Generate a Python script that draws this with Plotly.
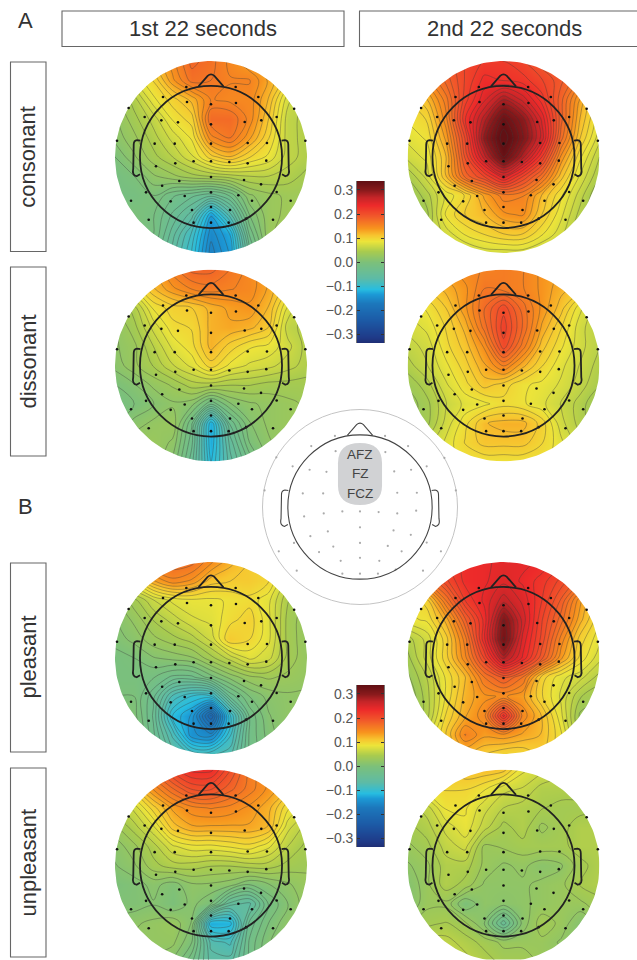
import numpy as np
import plotly.graph_objects as go

W, H = 637, 960

grid_pos = [-1.0, -0.8, -0.6, -0.4, -0.2, 0.0, 0.2, 0.4, 0.6, 0.8, 1.0]

consonant_1st = [
 [.10,.10,.12,.15,.18,.17,.15,.13,.12,.10,.10],
 [.07,.08,.10,.14,.17,.165,.155,.155,.13,.10,.08],
 [.03,.05,.085,.105,.125,.155,.15,.15,.12,.07,.05],
 [.02,.04,.06,.09,.105,.175,.175,.15,.11,.06,.05],
 [.015,.03,.05,.07,.09,.15,.165,.135,.10,.06,.05],
 [.0,.02,.04,.055,.075,.105,.12,.10,.085,.06,.05],
 [-.01,.0,.02,.03,.04,.045,.05,.055,.055,.05,.04],
 [-.01,-.01,.0,-.02,-.03,-.04,-.02,.02,.03,.035,.035],
 [.0,.0,-.01,-.035,-.06,-.13,-.07,.0,.03,.035,.04],
 [.0,.0,-.01,-.05,-.09,-.15,-.12,-.02,.03,.04,.04],
 [.0,.0,-.02,-.06,-.10,-.16,-.13,-.04,.02,.04,.04],
]
consonant_2nd = [
 [.17,.18,.19,.21,.22,.22,.21,.19,.18,.16,.15],
 [.13,.15,.18,.21,.235,.23,.225,.21,.19,.16,.13],
 [.10,.12,.16,.215,.25,.285,.26,.225,.18,.13,.09],
 [.09,.10,.15,.23,.28,.33,.30,.25,.18,.12,.08],
 [.08,.09,.135,.21,.30,.35,.31,.26,.17,.11,.07],
 [.07,.08,.12,.20,.27,.33,.28,.22,.14,.09,.055],
 [.045,.07,.12,.18,.21,.25,.21,.17,.115,.075,.045],
 [.03,.05,.08,.10,.135,.16,.155,.12,.09,.06,.03],
 [.02,.04,.09,.11,.12,.14,.145,.11,.08,.05,.03],
 [.03,.05,.07,.09,.10,.11,.11,.09,.07,.04,.03],
 [.03,.05,.06,.06,.07,.07,.07,.06,.05,.04,.03],
]
dissonant_1st = [
 [.10,.11,.13,.16,.18,.18,.165,.15,.13,.11,.10],
 [.08,.09,.12,.14,.155,.16,.155,.15,.13,.10,.08],
 [.03,.05,.09,.105,.11,.125,.135,.14,.12,.075,.05],
 [.02,.04,.07,.095,.10,.125,.13,.125,.11,.06,.05],
 [.02,.03,.055,.08,.095,.125,.105,.09,.085,.07,.05],
 [.015,.03,.045,.065,.08,.105,.085,.075,.07,.06,.05],
 [.0,.01,.025,.035,.05,.05,.045,.045,.04,.04,.04],
 [-.01,.0,.01,.02,.015,-.02,.01,.02,.025,.03,.035],
 [.0,.015,.025,.03,-.02,-.12,-.03,.01,.025,.03,.035],
 [.02,.03,.03,.02,-.03,-.12,-.05,.0,.02,.03,.03],
 [.03,.03,.03,.01,-.04,-.11,-.06,-.02,.01,.02,.03],
]
dissonant_2nd = [
 [.12,.13,.14,.15,.155,.16,.155,.14,.13,.125,.12],
 [.10,.11,.125,.14,.165,.16,.155,.14,.125,.115,.10],
 [.08,.09,.11,.14,.175,.205,.17,.14,.115,.08,.06],
 [.07,.08,.10,.125,.17,.215,.175,.13,.10,.07,.055],
 [.06,.07,.095,.115,.145,.205,.16,.115,.09,.07,.055],
 [.05,.065,.085,.105,.13,.155,.125,.10,.08,.065,.05],
 [.035,.05,.075,.095,.115,.105,.09,.085,.075,.06,.045],
 [.025,.04,.065,.08,.085,.095,.09,.08,.065,.05,.03],
 [.03,.04,.07,.095,.12,.125,.125,.105,.07,.05,.035],
 [.05,.06,.08,.10,.115,.115,.115,.10,.08,.06,.05],
 [.08,.08,.085,.09,.09,.09,.09,.09,.085,.08,.07],
]
pleasant_1st = [
 [.12,.14,.17,.175,.17,.145,.125,.11,.10,.08,.07],
 [.06,.09,.13,.15,.14,.115,.11,.11,.10,.06,.04],
 [.02,.04,.065,.08,.085,.085,.09,.095,.08,.045,.03],
 [.01,.025,.045,.06,.075,.08,.095,.105,.08,.04,.025],
 [.005,.015,.03,.04,.05,.07,.11,.10,.08,.04,.025],
 [-.005,.0,.01,.015,.02,.04,.06,.08,.07,.04,.025],
 [-.005,-.005,-.01,-.025,-.025,-.005,.015,.03,.035,.03,.025],
 [.0,.0,-.03,-.08,-.10,-.10,-.03,.0,.015,.02,.02],
 [.01,.005,-.035,-.11,-.135,-.21,-.10,-.02,.01,.02,.02],
 [.015,.01,-.03,-.08,-.14,-.15,-.09,-.02,.005,.02,.02],
 [.01,.0,-.02,-.06,-.08,-.08,-.07,-.02,.0,.01,.02],
]
pleasant_2nd = [
 [.21,.215,.22,.235,.24,.245,.245,.24,.225,.20,.19],
 [.145,.17,.205,.235,.24,.25,.24,.225,.205,.18,.15],
 [.09,.105,.165,.22,.245,.27,.25,.22,.185,.135,.10],
 [.085,.09,.125,.185,.235,.31,.26,.21,.17,.125,.09],
 [.05,.07,.105,.16,.24,.32,.25,.205,.15,.105,.08],
 [.04,.07,.105,.15,.21,.28,.24,.19,.135,.095,.07],
 [.03,.055,.09,.12,.165,.19,.165,.105,.08,.07,.05],
 [.02,.05,.09,.125,.14,.145,.135,.10,.075,.045,.035],
 [.02,.05,.10,.13,.15,.235,.15,.12,.08,.03,.025],
 [.03,.07,.11,.155,.135,.14,.13,.12,.09,.04,.03],
 [.06,.08,.10,.12,.11,.10,.10,.11,.09,.06,.05],
]
unpleasant_1st = [
 [.12,.14,.18,.215,.235,.235,.20,.16,.14,.12,.10],
 [.10,.11,.145,.175,.20,.20,.18,.16,.14,.12,.10],
 [.05,.07,.105,.135,.15,.155,.15,.14,.125,.09,.07],
 [.03,.05,.075,.115,.13,.13,.13,.13,.12,.07,.05],
 [.015,.03,.05,.075,.085,.085,.09,.095,.08,.055,.04],
 [.01,.02,.04,.05,.05,.045,.045,.05,.05,.04,.035],
 [.0,.005,.015,.005,.02,.02,.015,.0,.01,.02,.03],
 [.005,.005,.01,.0,.015,.0,-.05,-.06,-.01,.01,.03],
 [.015,.02,.025,.03,.01,-.12,-.115,-.03,.0,.02,.03],
 [.025,.025,.025,.025,.0,-.07,-.08,-.02,.01,.02,.025],
 [.02,.02,.02,.01,-.02,-.06,-.06,-.02,.01,.02,.02],
]
unpleasant_2nd = [
 [.10,.10,.11,.12,.12,.115,.08,.07,.06,.06,.06],
 [.10,.10,.10,.10,.09,.07,.065,.05,.05,.05,.05],
 [.05,.06,.09,.09,.07,.055,.05,.045,.04,.04,.04],
 [.04,.05,.07,.085,.06,.04,.05,.03,.04,.05,.05],
 [.03,.04,.06,.07,.03,.035,.04,.04,.04,.05,.05],
 [.02,.03,.05,.05,.03,.02,.025,.015,.02,.04,.05],
 [.01,.03,.05,.04,.02,.02,.02,.025,.03,.045,.05],
 [.01,.03,.03,.0,.02,.015,.02,.025,.03,.03,.04],
 [.03,.04,.045,.035,.01,-.04,.015,.04,.03,.01,.03],
 [.05,.06,.06,.05,.04,.03,.03,.03,.02,.01,.03],
 [.06,.06,.065,.06,.05,.04,.04,.03,.03,.03,.04],
]

electrode_x = [-.257,.257,-.5,.493,-.858,.866,-.25,0,.26,-.691,.684,-.517,-.344,0,.351,.524,
               -.979,.983,-.587,-.378,0,.382,.583,-.573,-.372,-.181,0,.191,.382,.576,
               -.509,-.33,0,.344,.521,-.677,.684,0,-.274,.285,-.833,-.42,.427,.83,
               -.198,0,.198,-.649,-.181,0,.184,.366,.646]
electrode_y = [.729,.729,.625,.625,.51,.503,.573,.549,.563,.417,.417,.382,.361,.34,.365,.382,
               .17,.17,.139,.139,.139,.146,.146,-.097,-.066,-.045,-.045,-.052,-.066,-.038,
               -.299,-.25,-.208,-.24,-.285,-.368,-.365,-.368,-.406,-.399,-.455,-.462,-.455,-.455,
               -.552,-.521,-.552,-.653,-.684,-.684,-.684,-.642,-.653]

cb_levels = [-.335,-.31,-.24,-.17,-.13,-.11,-.065,0,.045,.087,.115,.14,.19,.2375,.27,.30,.337]
cb_ticks = [-.3,-.2,-.1,0,.1,.2,.3]
cb_ticktext = ["\u22120.3","\u22120.2","\u22120.1","0.0","0.1","0.2","0.3"]

scale_values = [-.335,-.31,-.24,-.17,-.13,-.11,-.065,0,.045,.087,.115,.14,.19,.2375,.27,.30,.337]
scale_colors = ["#1f2d73","#1f3a88","#1c5aa6","#1c78bc","#1c9ad6","#27bde0","#5dbba6","#7cc07a","#a9cb4e",
                "#ece43a","#f7c52f","#f7941e","#f1592a","#ed2a2a","#c42528","#8a1a1c","#621014"]

col_titles = ["1st 22 seconds", "2nd 22 seconds"]
row_titles = ["consonant", "dissonant", "pleasant", "unpleasant"]
panel_letters = ["A", "B"]
site_names = ["AFZ", "FZ", "FCZ"]

ZMIN, ZMAX = -.335, .337
colorscale = [[(v - ZMIN) / (ZMAX - ZMIN), c] for v, c in zip(scale_values, scale_colors)]

def X(p): return p / W
def Y(p): return 1 - p / H

fig = go.Figure()
layout = dict(width=W, height=H, margin=dict(l=0, r=0, t=0, b=0), showlegend=False,
              paper_bgcolor="white", plot_bgcolor="rgba(0,0,0,0)",
              font=dict(family="Liberation Sans", color="#333"))
shapes, annotations = [], []
ax_n = [0]
PAD = 1.06

def new_axes(cx, cy, r):
    ax_n[0] += 1
    n = ax_n[0]
    sfx = "" if n == 1 else str(n)
    hide = dict(visible=False, fixedrange=True)
    ybot = min(cy + r * PAD, H)
    layout["xaxis" + sfx] = dict(hide, range=[-PAD, PAD], domain=[X(cx - r * PAD), X(cx + r * PAD)], anchor="y" + sfx)
    layout["yaxis" + sfx] = dict(hide, range=[-(ybot - cy) / r, PAD], domain=[Y(ybot), Y(cy - r * PAD)], anchor="x" + sfx)
    return "x" + sfx, "y" + sfx

def head_shapes(xr, yr, color, lw):
    base = dict(xref=xr, yref=yr, layer="above", line=dict(color=color, width=lw))
    shapes.append(dict(base, type="circle", x0=-.74, x1=.74, y0=-.74, y1=.74))
    shapes.append(dict(base, type="path",
                       path="M -0.13 0.735 L -0.035 0.845 Q 0 0.875 0.035 0.845 L 0.13 0.735"))
    for s in (-1, 1):
        shapes.append(dict(base, type="path",
            path=f"M {s*.735} 0.17 L {s*.77} 0.175 Q {s*.805} 0.17 {s*.805} 0.13 "
                 f"L {s*.81} -0.12 Q {s*.825} -0.19 {s*.775} -0.2 L {s*.74} -0.18"))

theta = np.linspace(2 * np.pi, 0, 181)
mask_x = [PAD, PAD, -PAD, -PAD, PAD, PAD] + list(np.cos(theta)) + [PAD]
mask_y = [0, PAD, PAD, -PAD, -PAD, 0] + list(np.sin(theta)) + [0]

def add_map(z, cx, cy, r=96):
    xr, yr = new_axes(cx, cy, r)
    fig.add_trace(go.Contour(x=grid_pos, y=grid_pos, z=z[::-1], xaxis=xr, yaxis=yr,
                             colorscale=colorscale, zmin=ZMIN, zmax=ZMAX, showscale=False,
                             hoverinfo="skip",
                             contours=dict(coloring="heatmap", start=-.33, end=.36, size=.011),
                             line=dict(color="rgba(60,60,60,0.62)", width=0.6, smoothing=1.0)))
    fig.add_trace(go.Scatter(x=mask_x, y=mask_y, xaxis=xr, yaxis=yr, mode="lines", fill="toself",
                             fillcolor="white", line=dict(width=0), hoverinfo="skip"))
    fig.add_trace(go.Scatter(x=electrode_x, y=electrode_y, xaxis=xr, yaxis=yr, mode="markers",
                             marker=dict(size=2.6, color="#111"), hoverinfo="skip"))
    head_shapes(xr, yr, "#222", 1.8)

def add_colorbar(top, bottom, x0=357, x1=384):
    ax_n[0] += 1
    n = ax_n[0]
    fig.add_trace(go.Heatmap(x=[0, 1], y=cb_levels, z=[[v, v] for v in cb_levels],
                             xaxis=f"x{n}", yaxis=f"y{n}", colorscale=colorscale, zmin=ZMIN, zmax=ZMAX,
                             zsmooth="best", showscale=False, hoverinfo="skip"))
    layout[f"xaxis{n}"] = dict(domain=[X(x0), X(x1)], anchor=f"y{n}", range=[0, 1], visible=False, fixedrange=True)
    layout[f"yaxis{n}"] = dict(domain=[Y(bottom), Y(top)], anchor=f"x{n}", range=[ZMIN, ZMAX], fixedrange=True,
                               tickvals=cb_ticks, ticktext=cb_ticktext, ticks="inside", ticklen=3,
                               tickcolor="#333", tickwidth=0.6, showline=True, linecolor="#777", linewidth=0.6,
                               mirror="ticks", showgrid=False, zeroline=False,
                               tickfont=dict(size=14, color="#555", family="Liberation Sans"))

map_cx = [211, 503.5]
map_cy = [157, 365.5, 658, 865.5]
rows = [[consonant_1st, consonant_2nd], [dissonant_1st, dissonant_2nd],
        [pleasant_1st, pleasant_2nd], [unpleasant_1st, unpleasant_2nd]]
for i, row in enumerate(rows):
    for j, z in enumerate(row):
        add_map(z, map_cx[j], map_cy[i])

add_colorbar(181, 343)
add_colorbar(685, 847)

# centre reference head
xr, yr = new_axes(360, 507, 97.5)
shapes.append(dict(type="circle", xref=xr, yref=yr, x0=-1, x1=1, y0=-1, y1=1, layer="below",
                   line=dict(color="#c4c4c4", width=1)))
shapes.append(dict(type="path", xref=xr, yref=yr, layer="below", fillcolor="#d1d2d4", line=dict(width=0),
                   path="M -0.226 0.45 Q -0.226 0.656 0 0.656 Q 0.226 0.656 0.226 0.45 L 0.226 0.22 "
                        "Q 0.226 0.02 0 0.02 Q -0.226 0.02 -0.226 0.22 Z"))
fig.add_trace(go.Scatter(x=electrode_x, y=electrode_y, xaxis=xr, yaxis=yr, mode="markers",
                         marker=dict(size=2.2, color="#aaa"), hoverinfo="skip"))
head_shapes(xr, yr, "#444", 1.1)

def label(text, xp, yp, size, color="#333", angle=0):
    annotations.append(dict(text=text, x=X(xp), y=Y(yp), xref="paper", yref="paper", showarrow=False,
                            xanchor="center", yanchor="middle", textangle=angle,
                            font=dict(size=size, color=color)))

for name, yp in zip(site_names, [454, 473, 494]):
    label(name, 360, yp, 13.5, "#444")

def frame(x0, y0, x1, y1):
    shapes.append(dict(type="rect", xref="paper", yref="paper", x0=X(x0), x1=X(x1), y0=Y(y1), y1=Y(y0),
                       line=dict(color="#666", width=1.1), layer="below"))

frame(62, 11, 344, 46.5)
frame(359.5, 11, 645, 46.5)
label(col_titles[0], 203, 28, 22)
label(col_titles[1], 504, 28, 22)
row_boxes = [(62, 251.5), (267, 456), (563, 752), (768, 957)]
for name, (y0, y1) in zip(row_titles, row_boxes):
    frame(10.5, y0, 46, y1)
    label(name, 28, (y0 + y1) / 2, 22, angle=-90)
for name, yp in zip(panel_letters, [21, 507]):
    label(name, 25, yp, 22)

layout["shapes"] = shapes
layout["annotations"] = annotations
fig.update_layout(**layout)
fig.write_html("out.html", config=dict(displayModeBar=False),
               post_script="document.body.style.margin='0';")
